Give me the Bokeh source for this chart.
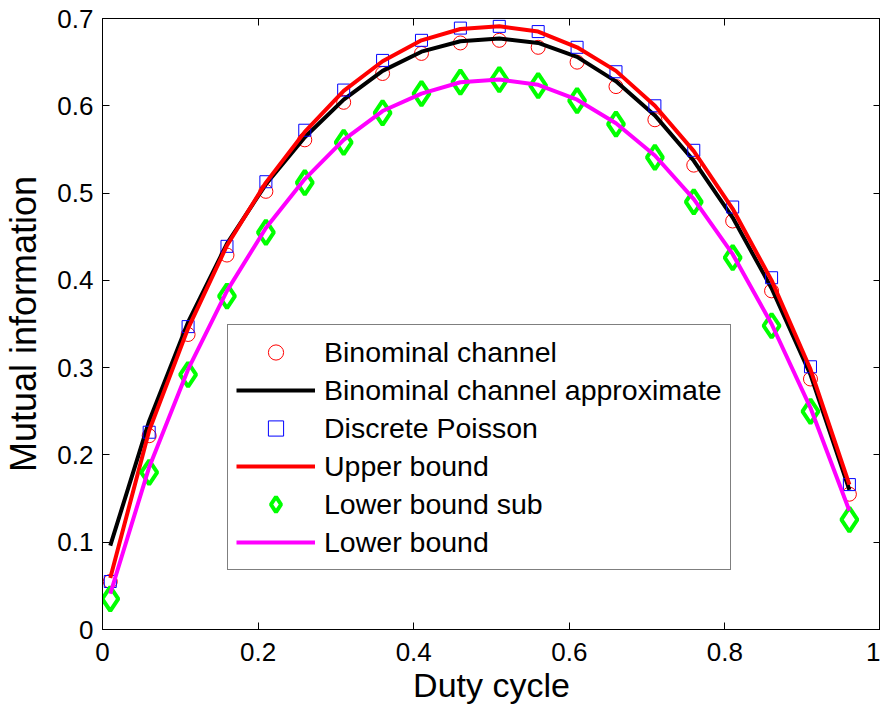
from bokeh.plotting import figure
from bokeh.models import Range1d, LinearAxis, FixedTicker, Legend, LegendItem, ColumnDataSource
from bokeh.embed import file_html
from bokeh.resources import INLINE

duty = [0.01, 0.06, 0.11, 0.16, 0.21, 0.26, 0.31, 0.36, 0.41, 0.46,
        0.51, 0.56, 0.61, 0.66, 0.71, 0.76, 0.81, 0.86, 0.91, 0.96]

binominal = [0.055, 0.222, 0.338, 0.429, 0.502, 0.561, 0.604, 0.637, 0.660, 0.672,
             0.675, 0.667, 0.650, 0.622, 0.584, 0.532, 0.468, 0.388, 0.287, 0.155]

binominal_approx = [0.096, 0.239, 0.352, 0.442, 0.510, 0.564, 0.607, 0.640, 0.662, 0.674,
                    0.677, 0.672, 0.656, 0.628, 0.589, 0.537, 0.472, 0.391, 0.292, 0.160]

discrete_poisson = [0.055, 0.226, 0.347, 0.439, 0.513, 0.572, 0.618, 0.652, 0.675, 0.689,
                    0.691, 0.685, 0.667, 0.639, 0.600, 0.549, 0.484, 0.403, 0.301, 0.166]

upper_bound = [0.059, 0.228, 0.345, 0.440, 0.512, 0.570, 0.617, 0.651, 0.675, 0.688,
               0.691, 0.685, 0.667, 0.640, 0.600, 0.548, 0.482, 0.400, 0.298, 0.166]

lower_bound_sub = [0.035, 0.180, 0.292, 0.382, 0.455, 0.512, 0.558, 0.592, 0.614, 0.627,
                   0.630, 0.623, 0.606, 0.579, 0.541, 0.490, 0.426, 0.348, 0.250, 0.126]

lower_bound = [0.041, 0.186, 0.298, 0.388, 0.460, 0.516, 0.561, 0.594, 0.614, 0.627,
               0.630, 0.624, 0.607, 0.580, 0.543, 0.493, 0.430, 0.350, 0.254, 0.136]

x_ticks = [0, 0.2, 0.4, 0.6, 0.8, 1.0]
x_tick_labels = {0: "0", 0.2: "0.2", 0.4: "0.4", 0.6: "0.6", 0.8: "0.8", 1.0: "1"}
y_ticks = [0, 0.1, 0.2, 0.3, 0.4, 0.5, 0.6, 0.7]
y_tick_labels = {0: "0", 0.1: "0.1", 0.2: "0.2", 0.3: "0.3", 0.4: "0.4", 0.5: "0.5", 0.6: "0.6", 0.7: "0.7"}

x_title = "Duty cycle"
y_title = "Mutual information"

FONT = "Liberation Sans"

src = ColumnDataSource(dict(x=duty, b=binominal, ba=binominal_approx, dp=discrete_poisson,
                            ub=upper_bound, lbs=lower_bound_sub, lb=lower_bound))

p = figure(width=880, height=708, output_backend="svg", toolbar_location=None,
           x_range=Range1d(0, 1), y_range=Range1d(0, 0.7),
           min_border_left=101, min_border_right=0, min_border_top=18, min_border_bottom=79,
           x_axis_label=x_title, y_axis_label=y_title)

p.grid.visible = False
p.background_fill_color = "white"
p.border_fill_color = "white"
p.outline_line_color = "black"
p.outline_line_width = 1

for ax in (p.xaxis[0], p.yaxis[0]):
    ax.major_tick_in = 7
    ax.major_tick_out = 0
    ax.minor_tick_line_color = None
    ax.axis_line_color = "black"
    ax.major_tick_line_color = "black"
    ax.major_label_text_font = FONT
    ax.major_label_text_font_size = "26px"
    ax.major_label_text_color = "black"
    ax.axis_label_text_font = FONT
    ax.axis_label_text_font_style = "normal"
    ax.axis_label_text_color = "black"

p.xaxis[0].axis_label_text_font_size = "34px"
p.yaxis[0].axis_label_text_font_size = "36px"

p.xaxis[0].ticker = FixedTicker(ticks=x_ticks)
p.xaxis[0].major_label_overrides = x_tick_labels
p.xaxis[0].major_label_standoff = 13
p.xaxis[0].axis_label_standoff = 2
p.yaxis[0].ticker = FixedTicker(ticks=y_ticks)
p.yaxis[0].major_label_overrides = y_tick_labels
p.yaxis[0].major_label_standoff = 9
p.yaxis[0].axis_label_standoff = 10

top_ax = LinearAxis(ticker=FixedTicker(ticks=x_ticks), major_tick_in=7, major_tick_out=0,
                    minor_tick_line_color=None, major_label_text_font_size="0px",
                    major_label_standoff=0, axis_line_color=None)
right_ax = LinearAxis(ticker=FixedTicker(ticks=y_ticks), major_tick_in=7, major_tick_out=0,
                      minor_tick_line_color=None, major_label_text_font_size="0px",
                      major_label_standoff=0, axis_line_color=None)
p.add_layout(top_ax, "above")
p.add_layout(right_ax, "right")

r_circ = p.scatter("x", "b", source=src, marker="circle", size=14, fill_color=None,
                   line_color="#ff0000", line_width=1)
r_black = p.line("x", "ba", source=src, line_color="black", line_width=4)
r_sq = p.scatter("x", "dp", source=src, marker="square", size=12, fill_color=None,
                 line_color="#0000ff", line_width=1)
r_red = p.line("x", "ub", source=src, line_color="#ff0000", line_width=4)
r_dia = p.scatter("x", "lbs", source=src, marker="diamond", size=24, fill_color=None,
                  line_color="#00ff00", line_width=4)
r_mag = p.line("x", "lb", source=src, line_color="#ff00ff", line_width=4)

legend = Legend(items=[
    LegendItem(label="Binominal channel", renderers=[r_circ]),
    LegendItem(label="Binominal channel approximate", renderers=[r_black]),
    LegendItem(label="Discrete Poisson", renderers=[r_sq]),
    LegendItem(label="Upper bound", renderers=[r_red]),
    LegendItem(label="Lower bound sub", renderers=[r_dia]),
    LegendItem(label="Lower bound", renderers=[r_mag]),
], location=(125, 59))
legend.label_text_font = FONT
legend.label_text_font_size = "28.5px"
legend.label_text_color = "black"
legend.glyph_width = 79
legend.glyph_height = 38
legend.label_height = 38
legend.label_standoff = 9
legend.spacing = 0
legend.padding = 8
legend.margin = 0
legend.border_line_color = "black"
legend.border_line_width = 1.5
legend.background_fill_color = "white"
legend.background_fill_alpha = 1
p.add_layout(legend, "center")

open("out.html", "w").write(file_html(p, INLINE))
